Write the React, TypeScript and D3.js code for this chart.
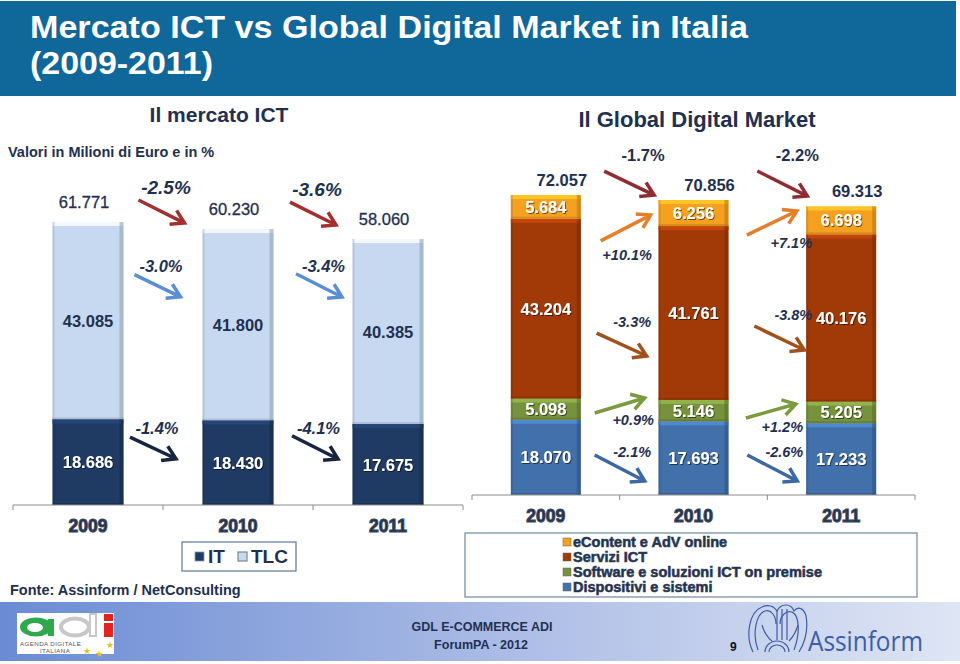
import * as d3 from 'd3';

const years = ['2009', '2010', '2011'];

// Il mercato ICT (milioni di euro)
const ictIT = [18686, 18430, 17675];
const ictTLC = [43085, 41800, 40385];
const ictTotal = [61771, 60230, 58060];
const ictTotalChg = ['-2.5%', '-3.6%'];
const ictTLCChg = ['-3.0%', '-3.4%'];
const ictITChg = ['-1.4%', '-4.1%'];

// Il Global Digital Market (milioni di euro)
const gdmKeys = ['dispositivi', 'software', 'servizi', 'econtent'];
const gdmDispositivi = [18070, 17693, 17233];
const gdmSoftware = [5098, 5146, 5205];
const gdmServizi = [43204, 41761, 40176];
const gdmEContent = [5684, 6256, 6698];
const gdmTotal = [72057, 70856, 69313];
const gdmTotalChg = ['-1.7%', '-2.2%'];
const gdmEContentChg = ['+10.1%', '+7.1%'];
const gdmServiziChg = ['-3.3%', '-3.8%'];
const gdmSoftwareChg = ['+0.9%', '+1.2%'];
const gdmDispositiviChg = ['-2.1%', '-2.6%'];

const gdmLegend = ['eContent e AdV online', 'Servizi ICT', 'Software e soluzioni ICT on premise', 'Dispositivi e sistemi'];

const NAVY = '#1F3050';
const FONT = '"Liberation Sans", Arial, sans-serif';

const ictColors = { it: '#1F3A63', tlc: '#C6D9F1' };
const gdmColors: Record<string, string> = {
  econtent: '#F5A01E',
  servizi: '#A23A08',
  software: '#76923C',
  dispositivi: '#4270AA',
};

const fmt = d3.formatLocale({ decimal: ',', thousands: '.', grouping: [3], currency: ['€', ''] }).format(',d');

// a bar piece with the bevelled look of the original
function Bevel({ x, y, w, h, fill }: { x: number; y: number; w: number; h: number; fill: string }) {
  const c = d3.color(fill)!;
  const light = c.brighter(0.7).formatHex();
  const dark = c.darker(0.9).formatHex();
  return (
    <g>
      <rect x={x} y={y} width={w} height={h} fill={fill} />
      <rect x={x} y={y} width={w} height={Math.min(4, h)} fill={light} opacity={0.8} />
      <rect x={x + w - 4} y={y} width={4} height={h} fill={dark} opacity={0.55} />
      <rect x={x} y={y} width={2} height={h} fill={dark} opacity={0.35} />
      <rect x={x} y={y + h - 2} width={w} height={2} fill={dark} opacity={0.45} />
    </g>
  );
}

function Arrow({ x0, y0, x1, y1, color }: { x0: number; y0: number; x1: number; y1: number; color: string }) {
  const ang = Math.atan2(y1 - y0, x1 - x0);
  const L = 15;
  const a = 0.55;
  const p1 = [x1 - L * Math.cos(ang - a), y1 - L * Math.sin(ang - a)];
  const p2 = [x1 - L * Math.cos(ang + a), y1 - L * Math.sin(ang + a)];
  return (
    <path
      d={`M${x0},${y0}L${x1},${y1}M${p1[0]},${p1[1]}L${x1},${y1}L${p2[0]},${p2[1]}`}
      fill="none"
      stroke={color}
      strokeWidth={3.5}
      strokeLinejoin="miter"
    />
  );
}

function Axis({ x, step, y }: { x: d3.ScaleBand<string>; step: number; y: number }) {
  const [r0, r1] = x.range();
  const ticks = d3.range(years.length + 1).map((k) => r0 + k * step);
  return (
    <g stroke="#8C8C8C" strokeWidth={1}>
      <line x1={r0} x2={r1} y1={y} y2={y} />
      {ticks.map((t) => (
        <line key={t} x1={t} x2={t} y1={y} y2={y + 5} />
      ))}
    </g>
  );
}

function YearLabels({ x, y }: { x: d3.ScaleBand<string>; y: number }) {
  return (
    <g fontFamily={FONT} fontWeight="bold" fontSize={17.5} textAnchor="middle" fill={NAVY} stroke="#3A475C" strokeWidth={1}>
      {years.map((yr) => (
        <text key={yr} x={x(yr)! + x.bandwidth() / 2} y={y}>
          {yr}
        </text>
      ))}
    </g>
  );
}

type Ann = { anchor: number[]; color: string; texts: string[]; size: number; italic: boolean; offs: { dx: number; dy0: number; dy1: number; lx: number; ly: number }[] };

function Annotations({ x, half, anns }: { x: d3.ScaleBand<string>; half: number; anns: Ann[] }) {
  const bw = x.bandwidth();
  return (
    <g>
      {anns.map((an, j) =>
        an.offs.map((o, i) => {
          const gap = (x(years[i])! + bw + x(years[i + 1])!) / 2;
          const cx = gap + o.dx;
          const y0 = an.anchor[i] + o.dy0;
          const y1 = an.anchor[i + 1] + o.dy1;
          const cy = (y0 + y1) / 2;
          return (
            <g key={`${j}-${i}`}>
              <Arrow x0={cx - half} y0={y0} x1={cx + half} y1={y1} color={an.color} />
              <text
                x={cx + o.lx}
                y={cy + o.ly + an.size * 0.36}
                textAnchor="middle"
                fontFamily={FONT}
                fontWeight="bold"
                fontStyle={an.italic ? 'italic' : 'normal'}
                fontSize={an.size}
                fill={NAVY}
              >
                {an.texts[i]}
              </text>
            </g>
          );
        })
      )}
    </g>
  );
}

function IctChart() {
  const x = d3.scaleBand(years, [13, 463]).paddingInner(0.527).paddingOuter(0.2635);
  const y = d3.scaleLinear([0, 70000], [505, 184.3]);
  const bw = x.bandwidth();
  const top = ictTotal.map((v) => y(v));
  const tlcMid = years.map((_, i) => (y(ictIT[i]) + y(ictIT[i] + ictTLC[i])) / 2);
  const itMid = years.map((_, i) => (y(0) + y(ictIT[i])) / 2);

  const anns: Ann[] = [
    {
      anchor: top, color: '#A3302F', texts: ictTotalChg, size: 19, italic: true,
      offs: [{ dx: -1.5, dy0: -22, dy1: -6, lx: 4.5, ly: -24 }, { dx: 0, dy0: -27, dy1: -14, lx: 4, ly: -24.5 }],
    },
    {
      anchor: tlcMid, color: '#5A8ED6', texts: ictTLCChg, size: 16.5, italic: true,
      offs: [{ dx: -5.5, dy0: -46, dy1: -28, lx: 3.5, ly: -20 }, { dx: 6, dy0: -51, dy1: -34.5, lx: 4.5, ly: -19.5 }],
    },
    {
      anchor: itMid, color: '#17253F', texts: ictITChg, size: 16.5, italic: true,
      offs: [{ dx: -10, dy0: -25, dy1: -4, lx: 4, ly: -20 }, { dx: 2, dy0: -27, dy1: -5.5, lx: 3.5, ly: -19.5 }],
    },
  ];

  return (
    <g>
      {years.map((yr, i) => {
        const x0 = x(yr)!;
        return (
          <g key={yr}>
            <Bevel x={x0} y={y(ictIT[i] + ictTLC[i])} w={bw} h={y(ictIT[i]) - y(ictIT[i] + ictTLC[i])} fill={ictColors.tlc} />
            <Bevel x={x0} y={y(ictIT[i])} w={bw} h={y(0) - y(ictIT[i])} fill={ictColors.it} />
            <text x={x0 + bw / 2 - 4} y={top[i] - 14} textAnchor="middle" fontFamily={FONT} fontSize={16.5} fill={NAVY} stroke={NAVY} strokeWidth={0.3}>
              {fmt(ictTotal[i])}
            </text>
            <text x={x0 + bw / 2} y={tlcMid[i] + 6} textAnchor="middle" fontFamily={FONT} fontWeight="bold" fontSize={16.5} fill={NAVY}>
              {fmt(ictTLC[i])}
            </text>
            <text x={x0 + bw / 2} y={itMid[i] + 6} textAnchor="middle" fontFamily={FONT} fontWeight="bold" fontSize={16.5} fill="#fff" filter="url(#shadow)">
              {fmt(ictIT[i])}
            </text>
          </g>
        );
      })}
      <Annotations x={x} half={23} anns={anns} />
      <Axis x={x} step={x.step()} y={505} />
      <YearLabels x={x} y={532} />
      {/* legend */}
      <g fontFamily={FONT} fontWeight="bold" fontSize={19} fill={NAVY}>
        <rect x={182} y={542} width={114} height={29} fill="#fff" stroke="#5E7697" strokeWidth={1.2} />
        <rect x={195} y={552} width={9} height={9} fill={ictColors.it} stroke="#8899aa" strokeWidth={0.8} />
        <text x={208} y={563}>IT</text>
        <rect x={238} y={552} width={9} height={9} fill={ictColors.tlc} stroke="#7d8896" strokeWidth={1.2} />
        <text x={251} y={563}>TLC</text>
      </g>
    </g>
  );
}

function GdmChart() {
  const x = d3.scaleBand(years, [472, 915]).paddingInner(0.526).paddingOuter(0.263);
  const y = d3.scaleLinear([0, 75000], [495, 182.8]);
  const bw = x.bandwidth();
  const table = years.map((yr, i) => ({
    year: yr,
    dispositivi: gdmDispositivi[i],
    software: gdmSoftware[i],
    servizi: gdmServizi[i],
    econtent: gdmEContent[i],
  }));
  const stack = d3.stack<any>().keys(gdmKeys)(table);
  const mid = (k: string) => {
    const s = stack.find((d) => d.key === k)!;
    return s.map((d) => (y(d[0]) + y(d[1])) / 2);
  };
  const top = gdmTotal.map((v) => y(v));

  const anns: Ann[] = [
    {
      anchor: top, color: '#8E2E33', texts: gdmTotalChg, size: 16.5, italic: false,
      offs: [{ dx: 9.5, dy0: -24, dy1: -5, lx: 14, ly: -28 }, { dx: 15, dy0: -29, dy1: -10.4, lx: 15, ly: -28.5 }],
    },
    {
      anchor: mid('econtent'), color: '#E47F2A', texts: gdmEContentChg, size: 14.5, italic: true,
      offs: [{ dx: 6, dy0: 34, dy1: 2, lx: 1.5, ly: 27 }, { dx: 4.5, dy0: 22, dy1: -9.4, lx: 19.5, ly: 20 }],
    },
    {
      anchor: mid('servizi'), color: '#A1511E', texts: gdmServiziChg, size: 14.5, italic: true,
      offs: [{ dx: 2, dy0: 24.4, dy1: 43, lx: 10.5, ly: -22.5 }, { dx: 12, dy0: 13, dy1: 32, lx: 14, ly: -23 }],
    },
    {
      anchor: mid('software'), color: '#7A9B3E', texts: gdmSoftwareChg, size: 14.5, italic: true,
      offs: [{ dx: 0, dy0: 3.8, dy1: -12.6, lx: 13.5, ly: 14.5 }, { dx: 3.5, dy0: 7.4, dy1: -8.4, lx: 11.5, ly: 16 }],
    },
    {
      anchor: mid('dispositivi'), color: '#3E68A3', texts: gdmDispositiviChg, size: 14.5, italic: true,
      offs: [{ dx: 0, dy0: -2.4, dy1: 22.8, lx: 12.5, ly: -16 }, { dx: 5, dy0: -3.2, dy1: 21.9, lx: 12, ly: -16 }],
    },
  ];

  return (
    <g>
      {stack.map((s) => (
        <g key={s.key}>
          {s.map((d, i) => (
            <g key={i}>
              <Bevel x={x(years[i])!} y={y(d[1])} w={bw} h={y(d[0]) - y(d[1])} fill={gdmColors[s.key]} />
              <text
                x={x(years[i])! + bw / 2}
                y={(y(d[0]) + y(d[1])) / 2 + 6}
                textAnchor="middle"
                fontFamily={FONT}
                fontWeight="bold"
                fontSize={16.5}
                fill="#fff"
                filter="url(#shadow)"
              >
                {fmt(d.data[s.key])}
              </text>
            </g>
          ))}
        </g>
      ))}
      {years.map((yr, i) => (
        <text key={yr} x={x(yr)! + bw / 2 + 16} y={top[i] - 9} textAnchor="middle" fontFamily={FONT} fontWeight="bold" fontSize={16.5} fill={NAVY}>
          {fmt(gdmTotal[i])}
        </text>
      ))}
      <Annotations x={x} half={25} anns={anns} />
      <Axis x={x} step={x.step()} y={495} />
      <YearLabels x={x} y={522} />
      {/* legend */}
      <rect x={465} y={533} width={452} height={64} fill="#fff" stroke="#6F87A8" strokeWidth={1.2} />
      <g fontFamily={FONT} fontWeight="bold" fontSize={14.5} fill={NAVY} stroke="#34425A" strokeWidth={0.6}>
        {gdmLegend.map((lab, k) => {
          const key = ['econtent', 'servizi', 'software', 'dispositivi'][k];
          const cy = 542 + k * 15;
          return (
            <g key={lab}>
              <rect x={563} y={cy - 4} width={8} height={8} fill={gdmColors[key]} stroke="#666" strokeWidth={0.5} />
              <text x={573} y={cy + 5}>{lab}</text>
            </g>
          );
        })}
      </g>
    </g>
  );
}

function AdiLogo() {
  return (
    <g>
      <rect x={17} y={613} width={97} height={41} fill="#fff" />
      <ellipse cx={36} cy={627} rx={16} ry={9.5} fill="#2FA84B" />
      <ellipse cx={35} cy={627.5} rx={8} ry={4.5} fill="#fff" />
      <rect x={48} y={619} width={6} height={17} fill="#2FA84B" />
      <ellipse cx={75} cy={627} rx={14} ry={8.5} fill="none" stroke="#C8C8C8" strokeWidth={4} />
      <rect x={90} y={614} width={6} height={22} fill="none" stroke="#C8C8C8" strokeWidth={2} />
      <rect x={104} y={614} width={9} height={7} fill="#E3231F" />
      <rect x={104} y={623} width={9} height={14} fill="#E3231F" />
      <text x={20} y={646} fontFamily={FONT} fontSize={6.2} fill="#555" letterSpacing={0.4}>AGENDA DIGITALE</text>
      <text x={40} y={653} fontFamily={FONT} fontSize={6.2} fill="#555" letterSpacing={0.4}>ITALIANA</text>
      <g fill="#E2C40E" fontFamily={FONT} fontSize={9}>
        <text x={83} y={654}>★</text>
        <text x={95} y={657}>★</text>
        <text x={106} y={648}>★</text>
      </g>
    </g>
  );
}

function AssinformLogo() {
  const c = '#3C5DA8';
  return (
    <g fill="none" stroke={c} strokeWidth={1.2}>
      <path d="M753,652 C745,636 749,612 762,607 C768,604 774,606 777,611 C781,603 791,603 794,611 C798,606 804,608 806,616 C809,632 803,646 799,652" />
      <path d="M758,650 C752,634 756,614 765,611 C771,609 776,616 776,624" />
      <path d="M794,650 C800,634 800,616 792,612 C786,610 780,616 780,624" />
      <path d="M777,611 L777,640 M782,609 L782,640 M787,609 L787,640" />
      <path d="M765,652 A12,11 0 0 1 789,652" />
      <path d="M769,652 A8,7 0 0 1 785,652" />
      <path d="M762,625 C764,632 768,638 772,641 M798,625 C796,632 792,638 789,641" />
      <text x={808} y={651} stroke="none" fill={c} fontFamily='"Open Sans", "Noto Sans", sans-serif' fontSize={28} textLength={115} lengthAdjust="spacingAndGlyphs">
        Assinform
      </text>
    </g>
  );
}

export default function App() {
  return (
    <div style={{ position: 'absolute', left: 0, top: 0 }}>
      <svg width={960} height={664} viewBox="0 0 960 664" style={{ display: 'block', background: '#fff' }}>
        <defs>
          <filter id="shadow" x="-10%" y="-20%" width="130%" height="150%">
            <feDropShadow dx={1} dy={1} stdDeviation={0.7} floodColor="#000" floodOpacity={0.55} />
          </filter>
          <linearGradient id="footer" x1="0" x2="1" y1="0" y2="0">
            <stop offset="0%" stopColor="#6A8BD4" />
            <stop offset="55%" stopColor="#AEBEE6" />
            <stop offset="100%" stopColor="#DEE5F4" />
          </linearGradient>
        </defs>

        {/* title band */}
        <rect x={0} y={1} width={956} height={95} fill="#10679A" />
        <g fontFamily={FONT} fontWeight="bold" fontSize={32} fill="#fff">
          <text x={30} y={37.5} textLength={718} lengthAdjust="spacingAndGlyphs">Mercato ICT vs Global Digital Market in Italia</text>
          <text x={30} y={73.5} textLength={183} lengthAdjust="spacingAndGlyphs">(2009-2011)</text>
        </g>

        <g fontFamily={FONT} fontWeight="bold" fill={NAVY}>
          <text x={219} y={122} fontSize={21} textAnchor="middle">Il mercato ICT</text>
          <text x={697} y={127} fontSize={22} textAnchor="middle">Il Global Digital Market</text>
          <text x={8} y={157} fontSize={14.5}>Valori in Milioni di Euro e in %</text>
        </g>

        <IctChart />
        <GdmChart />

        <text x={10} y={595} fontFamily={FONT} fontWeight="bold" fontSize={14.5} fill={NAVY}>
          Fonte: Assinform / NetConsulting
        </text>

        {/* footer */}
        <rect x={0} y={602} width={960} height={59} fill="url(#footer)" />
        <AdiLogo />
        <g fontFamily={FONT} fontWeight="bold" fontSize={12.5} fill={NAVY} textAnchor="middle">
          <text x={482} y={631}>GDL E-COMMERCE ADI</text>
          <text x={481} y={649}>ForumPA - 2012</text>
        </g>
        <text x={730} y={651} fontFamily={FONT} fontWeight="bold" fontSize={12} fill="#111">9</text>
        <AssinformLogo />
      </svg>
    </div>
  );
}
